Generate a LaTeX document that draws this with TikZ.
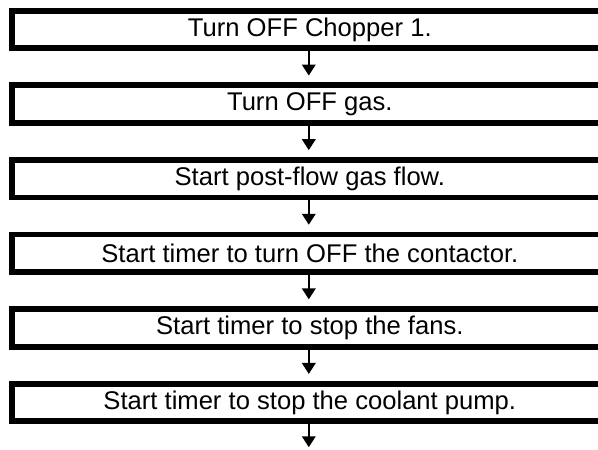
\documentclass[tikz,border=0pt]{standalone}
\usepackage{fontspec}
\setmainfont{Liberation Sans}
\usetikzlibrary{arrows.meta}
\tikzset{
  stepbox/.style={draw=black, line width=5.8pt, fill=white, anchor=west,
    minimum width=596pt, minimum height=37.5pt, inner sep=0pt, outer sep=0pt,
    font=\fontsize{25.6pt}{30pt}\selectfont},
  flowarrow/.style={line width=2.2pt, -{Triangle[width=13.5pt,length=11pt]}}
}
\begin{document}
\begin{tikzpicture}[x=1pt,y=-1pt]
\useasboundingbox (0,0) rectangle (598,450);
\clip (0,0) rectangle (598,450);
\node[stepbox] (b1) at (11.8,29.5) {Turn OFF Chopper 1.};
\node[stepbox] (b2) at (11.8,104.1) {Turn OFF gas.};
\node[stepbox] (b3) at (11.8,178.7) {Start post-flow gas flow.};
\node[stepbox] (b4) at (11.8,253.3) {Start timer to turn OFF the contactor.};
\node[stepbox] (b5) at (11.8,327.9) {Start timer to stop the fans.};
\node[stepbox] (b6) at (11.8,402.5) {Start timer to stop the coolant pump.};
\path ([xshift=-1pt]b6.south) ++(0,26) coordinate (end);
\foreach \a/\b in {b1/b2,b2/b3,b3/b4,b4/b5,b5/b6}{
  \draw[flowarrow] ([xshift=-1pt]\a.south) -- ([xshift=-1pt,yshift=9.8pt]\b.north);
}
\draw[flowarrow] ([xshift=-1pt]b6.south) -- (end);
\end{tikzpicture}
\end{document}
